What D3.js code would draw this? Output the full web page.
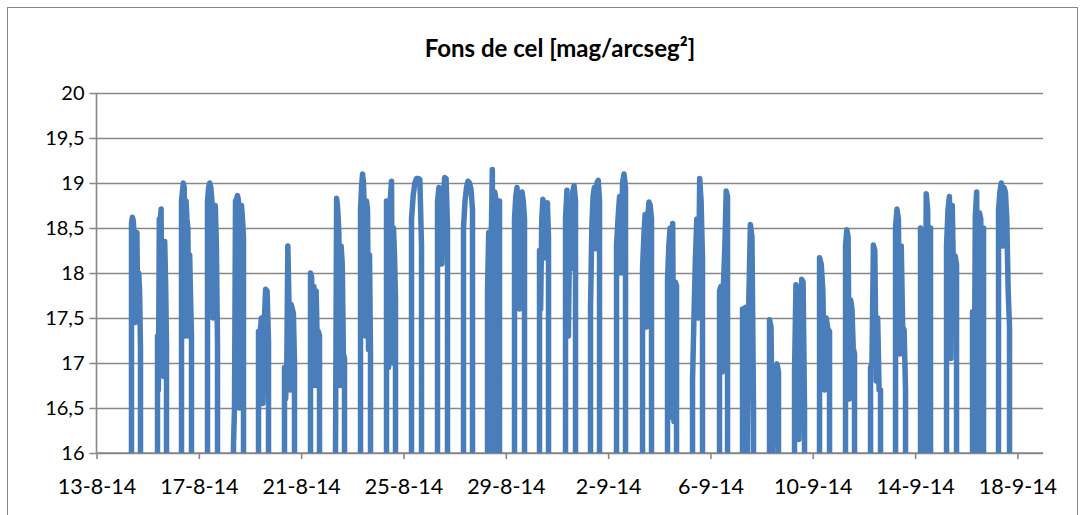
<!DOCTYPE html>
<html>
<head>
<meta charset="utf-8">
<script src="https://cdn.jsdelivr.net/npm/d3@7"></script>
<style>
  html, body { margin: 0; padding: 0; background: #ffffff; }
  svg { display: block; }
</style>
</head>
<body>
<svg id="chart" width="1088" height="515"></svg>
<script>
// ---------------- DATA ----------------
const chartTitle = "Fons de cel [mag/arcseg²]";
const yTickValues = [16, 16.5, 17, 17.5, 18, 18.5, 19, 19.5, 20];
const xTickDates = ["2014-08-13", "2014-08-17", "2014-08-21", "2014-08-25", "2014-08-29",
                    "2014-09-02", "2014-09-06", "2014-09-10", "2014-09-14", "2014-09-18"];
const xDomain = ["2014-08-13T00:00", "2014-09-19T00:00"];
// reading below the axis minimum (twilight / daylight)
const daylightMag = 8;

const nightStart = [
  "2014-08-14T08:50", "2014-08-15T09:14", "2014-08-16T07:45", "2014-08-17T08:09", "2014-08-18T08:32",
  "2014-08-19T08:00", "2014-08-20T08:23", "2014-08-21T08:47", "2014-08-22T08:14", "2014-08-23T07:42",
  "2014-08-24T08:05", "2014-08-25T07:33", "2014-08-26T07:56", "2014-08-27T08:20", "2014-08-28T06:51",
  "2014-08-29T08:11", "2014-08-30T07:38", "2014-08-31T08:02", "2014-09-01T07:29", "2014-09-02T07:53",
  "2014-09-03T08:17", "2014-09-04T07:44", "2014-09-05T07:11", "2014-09-06T08:31", "2014-09-07T06:06",
  "2014-09-08T07:26", "2014-09-09T06:53", "2014-09-10T06:21", "2014-09-11T06:44", "2014-09-12T06:12",
  "2014-09-13T05:39", "2014-09-14T05:06", "2014-09-15T05:30", "2014-09-16T05:53", "2014-09-17T06:17"
];
const nightEnd = [
  "2014-08-14T17:17", "2014-08-15T17:41", "2014-08-16T17:08", "2014-08-17T17:32", "2014-08-18T17:55",
  "2014-08-19T17:23", "2014-08-20T17:46", "2014-08-21T17:14", "2014-08-22T16:41", "2014-08-23T17:05",
  "2014-08-24T16:32", "2014-08-25T16:56", "2014-08-26T17:19", "2014-08-27T16:46", "2014-08-28T18:07",
  "2014-08-29T17:34", "2014-08-30T16:05", "2014-08-31T17:25", "2014-09-01T15:56", "2014-09-02T16:20",
  "2014-09-03T16:43", "2014-09-04T16:11", "2014-09-05T16:34", "2014-09-06T16:02", "2014-09-07T16:25",
  "2014-09-08T15:52", "2014-09-09T16:16", "2014-09-10T15:44", "2014-09-11T15:11", "2014-09-12T15:34",
  "2014-09-13T15:02", "2014-09-14T14:29", "2014-09-15T14:53", "2014-09-16T16:13", "2014-09-17T16:36"
];
const nightMag = [
  [18.55, 18.62, 18.58, 18.4, 17.45, 18.3, 18.45, 17.5, 18.0, 17.8, 17.15],
  [17.3, 16.7, 18.6, 18.55, 18.71, 17.0, 18.3, 16.85, 18.35, 17.9, 17.2],
  [18.8, 18.9, 19.0, 18.95, 17.3, 18.8, 18.6, 18.5, 17.3, 18.2, 17.7, 17.3],
  [18.8, 18.95, 19.0, 18.95, 18.8, 17.5, 18.6, 18.75, 18.3, 17.2],
  [16.1, 16.5, 18.8, 18.82, 18.86, 18.8, 16.5, 18.7, 18.75, 18.6, 18.4],
  [17.35, 17.3, 17.5, 16.55, 17.45, 17.82, 17.8, 17.25],
  [16.95, 16.6, 16.9, 18.3, 17.7, 16.7, 17.65, 17.6, 17.55, 17.0],
  [18.0, 17.95, 17.0, 17.85, 16.75, 17.8, 17.2, 17.35, 17.3],
  [16.05, 18.83, 18.7, 18.44, 16.75, 18.3, 18.1, 17.1, 17.05],
  [18.7, 18.95, 19.1, 19.0, 18.6, 17.3, 18.8, 18.7, 17.15, 18.2, 17.1],
  [18.8, 18.75, 16.95, 18.7, 18.85, 19.02, 17.0, 18.5, 18.2, 17.7],
  [18.6, 18.86, 19.0, 19.05, 19.05, 19.04, 18.3],
  [18.79, 18.95, 18.3, 18.1, 18.8, 19.06, 19.05, 18.5],
  [18.5, 18.8, 18.95, 19.02, 19.0, 18.93, 18.7],
  [17.8, 18.45, 15.8, 18.3, 19.15, 15.8, 18.9, 18.82, 15.8, 18.8, 18.8],
  [18.6, 18.85, 18.95, 18.25, 17.6, 18.3, 18.9, 18.8, 18.6],
  [18.25, 17.6, 18.6, 18.82, 18.75, 18.17, 18.5, 18.78, 18.4],
  [18.6, 18.92, 17.3, 18.6, 18.05, 18.9, 18.97, 18.8],
  [17.6, 18.5, 18.85, 18.95, 18.27, 19.0, 19.03, 18.8],
  [18.3, 18.6, 18.85, 18.0, 19.0, 19.1, 18.95],
  [18.05, 18.4, 18.65, 17.4, 18.6, 18.79, 18.75, 18.6],
  [17.93, 18.3, 18.5, 16.4, 18.55, 16.35, 17.9, 17.86],
  [16.8, 17.5, 18.15, 18.6, 17.5, 19.05, 18.8, 18.15],
  [17.8, 17.85, 16.9, 17.9, 18.3, 18.91, 18.85],
  [17.6, 15.8, 17.62, 15.8, 17.7, 18.54, 18.4, 16.5],
  [17.48, 17.4, 15.8, 16.71, 16.9, 16.99, 16.9],
  [16.9, 17.87, 17.8, 16.15, 17.0, 17.93, 17.9, 16.5],
  [18.17, 18.1, 17.8, 16.7, 17.5, 17.38, 17.35],
  [18.3, 18.48, 18.4, 16.6, 17.7, 17.6, 17.17, 17.1],
  [16.95, 17.0, 18.31, 18.25, 16.8, 17.5, 16.7, 16.7],
  [18.5, 18.71, 18.6, 17.1, 18.3, 17.4, 17.37, 16.7],
  [18.5, 15.8, 18.3, 15.8, 18.88, 18.7, 15.8, 18.5],
  [18.3, 18.7, 18.85, 17.05, 18.75, 17.85, 18.19, 18.1],
  [17.57, 15.8, 18.62, 18.9, 15.8, 18.67, 18.6, 15.8, 18.5],
  [18.7, 18.9, 19.0, 18.3, 18.95, 18.9, 18.6, 17.8, 17.4]
];

// ---------------- CHART ----------------
const parseT = d3.timeParse("%Y-%m-%dT%H:%M");
const parseD = d3.timeParse("%Y-%m-%d");
const fmtTick = d => `${d.getDate()}-${d.getMonth() + 1}-${String(d.getFullYear()).slice(2)}`;
const fmtY = d => d3.format("")(d).replace(".", ",");

const plot = { left: 96.5, right: 1043, top: 93, bottom: 453 };
const x = d3.scaleTime().domain(xDomain.map(parseT)).range([plot.left, plot.right]);
const y = d3.scaleLinear().domain([16, 20]).range([plot.bottom, plot.top]);

// build the measurement series: each night sampled evenly between its start and end
const series = [];
nightMag.forEach((vals, i) => {
  const t0 = parseT(nightStart[i]).getTime();
  const t1 = parseT(nightEnd[i]).getTime();
  series.push({ t: new Date(t0), v: daylightMag });
  vals.forEach((v, k) => {
    series.push({ t: new Date(t0 + (t1 - t0) * k / (vals.length - 1)), v });
  });
  series.push({ t: new Date(t1), v: daylightMag });
});

const svg = d3.select("#chart");
const gridColor = "#878787";
const fontFam = "Lato, 'Open Sans', sans-serif";

// chart area border
svg.append("rect")
  .attr("x", 7.5).attr("y", 7.5).attr("width", 1070).attr("height", 520)
  .attr("fill", "#ffffff").attr("stroke", "#868686").attr("stroke-width", 1);

// title
svg.append("text")
  .attr("x", 560).attr("y", 47)
  .attr("text-anchor", "middle").attr("dominant-baseline", "central")
  .attr("font-family", fontFam).attr("font-weight", "bold").attr("font-size", 24)
  .attr("fill", "#000")
  .text(chartTitle);

// horizontal gridlines + y axis
const yAxis = d3.axisLeft(y).tickValues(yTickValues).tickFormat(fmtY)
  .tickSize(-(plot.right - plot.left)).tickPadding(12);
const gy = svg.append("g").attr("transform", `translate(${plot.left},0)`).call(yAxis);
gy.select(".domain").remove();
gy.selectAll(".tick line").attr("stroke", gridColor).attr("stroke-width", 1.6).attr("x1", -7);
gy.selectAll(".tick text").attr("font-family", fontFam).attr("font-size", 20).attr("fill", "#000");

// y axis line
svg.append("line")
  .attr("x1", plot.left).attr("x2", plot.left).attr("y1", plot.top).attr("y2", plot.bottom)
  .attr("stroke", gridColor).attr("stroke-width", 1.6);

// x axis
const xAxis = d3.axisBottom(x).tickValues(xTickDates.map(parseD)).tickFormat(fmtTick)
  .tickSize(6).tickPadding(20);
const gx = svg.append("g").attr("transform", `translate(0,${plot.bottom})`).call(xAxis);
gx.select(".domain").attr("stroke", gridColor).attr("stroke-width", 1.6)
  .attr("d", `M${plot.left},0H${plot.right}`);
gx.selectAll(".tick line").attr("stroke", gridColor).attr("stroke-width", 1.6);
gx.selectAll(".tick text").attr("font-family", fontFam).attr("font-size", 21.5).attr("fill", "#000");

// clip
svg.append("clipPath").attr("id", "plotclip").append("rect")
  .attr("x", plot.left).attr("y", plot.top - 10)
  .attr("width", plot.right - plot.left).attr("height", plot.bottom - plot.top + 10);

const line = d3.line().x(d => x(d.t)).y(d => y(d.v));
svg.append("path")
  .datum(series)
  .attr("clip-path", "url(#plotclip)")
  .attr("fill", "none")
  .attr("stroke", "#4a7ebb")
  .attr("stroke-width", 5.5)
  .attr("stroke-linejoin", "round")
  .attr("stroke-linecap", "round")
  .attr("d", line);
</script>
</body>
</html>
